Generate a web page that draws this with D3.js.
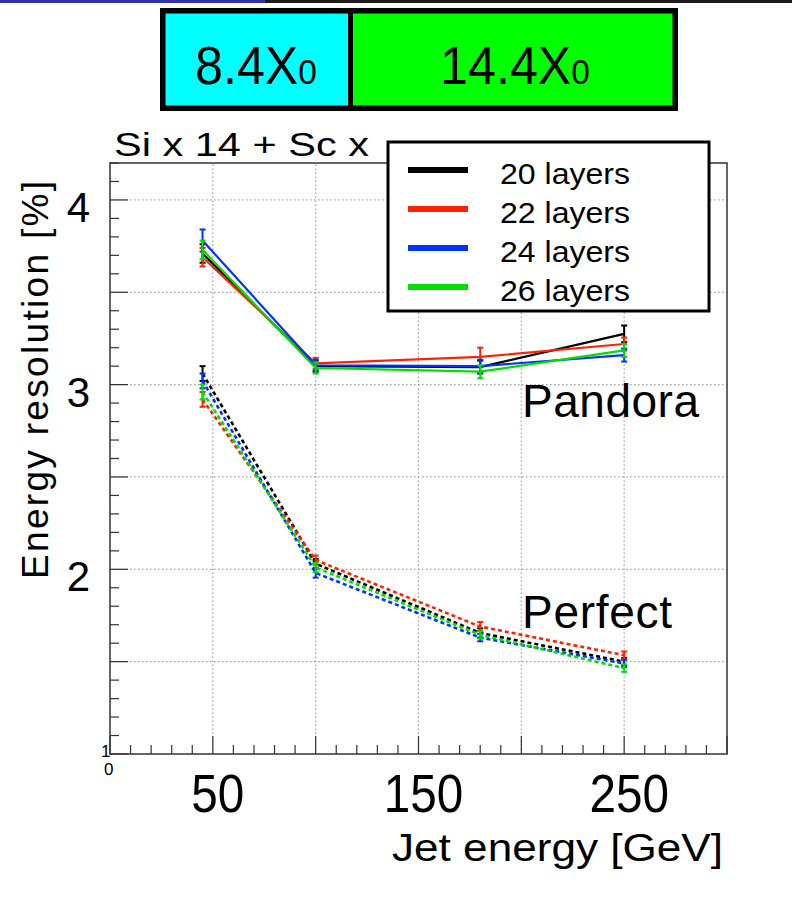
<!DOCTYPE html>
<html>
<head>
<meta charset="utf-8">
<script src="https://cdn.jsdelivr.net/npm/d3@7"></script>
<style>
  body { margin: 0; background: #fff; }
  svg { display: block; }
</style>
</head>
<body>
<svg id="chart" width="792" height="898"></svg>
<script>
// jet energies [GeV]
const energies = [45, 100, 180, 250];

const layers = ["20 layers", "22 layers", "24 layers", "26 layers"];
const colors = ["#000000", "#ff2200", "#0033ff", "#00e000"];

// energy resolution [%], Pandora PFA (solid)
const pandora = [
  [3.71, 3.100, 3.095, 3.275],
  [3.69, 3.115, 3.150, 3.220],
  [3.78, 3.105, 3.100, 3.160],
  [3.73, 3.090, 3.070, 3.185],
];
const pandoraErr = [
  [0.05, 0.030, 0.035, 0.045],
  [0.05, 0.030, 0.050, 0.035],
  [0.06, 0.030, 0.035, 0.035],
  [0.05, 0.030, 0.035, 0.035],
];

// energy resolution [%], perfect PFA (dashed)
const perfect = [
  [3.06, 2.030, 1.655, 1.500],
  [2.92, 2.050, 1.690, 1.535],
  [3.02, 1.980, 1.630, 1.490],
  [2.96, 2.010, 1.645, 1.465],
];
const perfectErr = [
  [0.04, 0.025, 0.025, 0.020],
  [0.04, 0.025, 0.025, 0.020],
  [0.04, 0.025, 0.020, 0.020],
  [0.04, 0.025, 0.020, 0.020],
];

const xTickLabels = [50, 150, 250];
const yTickLabels = [4, 3, 2];

const svg = d3.select("#chart");
const sans = "Liberation Sans, Arial, sans-serif";

// slide decoration at the very top
svg.append("rect").attr("x", 0).attr("y", 0).attr("width", 265).attr("height", 3).attr("fill", "#3333b0");
svg.append("rect").attr("x", 265).attr("y", 0).attr("width", 527).attr("height", 3).attr("fill", "#1c1c1c");

// absorber structure bar
const bar = svg.append("g");
bar.append("rect").attr("x", 162).attr("y", 10).attr("width", 189).attr("height", 99).attr("fill", "#00ffff");
bar.append("rect").attr("x", 351).attr("y", 10).attr("width", 325).attr("height", 99).attr("fill", "#00ff00");
bar.append("rect").attr("x", 162.75).attr("y", 10.75).attr("width", 512.5).attr("height", 97.5)
  .attr("fill", "none").attr("stroke", "#000").attr("stroke-width", 5.5);
bar.append("line").attr("x1", 350.5).attr("x2", 350.5).attr("y1", 10).attr("y2", 111)
  .attr("stroke", "#000").attr("stroke-width", 5);

function barLabel(cx, main) {
  const t = bar.append("text")
    .attr("transform", `translate(${cx},84) scale(0.93,1)`)
    .attr("text-anchor", "middle")
    .attr("font-family", sans)
    .attr("font-size", 54);
  t.append("tspan").text(main);
  t.append("tspan").attr("font-size", 36).text("0");
}
barLabel(256, "8.4X");
barLabel(515, "14.4X");

// plot frame
const x = d3.scaleLinear().domain([0, 300]).range([110, 727]);
const y = d3.scaleLinear().domain([1, 4.2]).range([754, 163]);

const plot = svg.append("g");

// dotted grid
plot.selectAll("line.gx")
  .data(d3.range(50, 300, 50))
  .join("line")
  .attr("class", "gx")
  .attr("x1", d => x(d)).attr("x2", d => x(d))
  .attr("y1", y(1)).attr("y2", y(4.2))
  .attr("stroke", "#a0a0a0").attr("stroke-width", 1.2).attr("stroke-dasharray", "1.5,2.5");

plot.selectAll("line.gy")
  .data(d3.range(1.5, 4.2, 0.5))
  .join("line")
  .attr("class", "gy")
  .attr("x1", x(0)).attr("x2", x(300))
  .attr("y1", d => y(d)).attr("y2", d => y(d))
  .attr("stroke", "#a0a0a0").attr("stroke-width", 1.2).attr("stroke-dasharray", "1.5,2.5");

// ticks
const xMinor = d3.range(0, 301, 10);
plot.selectAll("line.tx")
  .data(xMinor)
  .join("line")
  .attr("class", "tx")
  .attr("x1", d => x(d)).attr("x2", d => x(d))
  .attr("y1", y(1)).attr("y2", d => y(1) - (d % 50 === 0 ? 18 : 9))
  .attr("stroke", "#333").attr("stroke-width", 1.2);

const yMinor = d3.range(10, 43).map(d => d / 10);
plot.selectAll("line.ty")
  .data(yMinor)
  .join("line")
  .attr("class", "ty")
  .attr("x1", x(0)).attr("x2", d => x(0) + (Math.round(d * 10) % 5 === 0 ? 18 : 9))
  .attr("y1", d => y(d)).attr("y2", d => y(d))
  .attr("stroke", "#333").attr("stroke-width", 1.2);

plot.append("rect")
  .attr("x", x(0)).attr("y", y(4.2))
  .attr("width", x(300) - x(0)).attr("height", y(1) - y(4.2))
  .attr("fill", "none").attr("stroke", "#333").attr("stroke-width", 1.5);

// tick labels
plot.selectAll("text.xl")
  .data(xTickLabels)
  .join("text")
  .attr("class", "xl")
  .attr("x", d => x(d) + 5).attr("y", 812)
  .attr("text-anchor", "middle")
  .attr("font-family", sans)
  .attr("font-size", 54)
  .attr("textLength", d => String(d).length * 26.5)
  .attr("lengthAdjust", "spacingAndGlyphs")
  .text(d => d);

plot.selectAll("text.yl")
  .data(yTickLabels)
  .join("text")
  .attr("class", "yl")
  .attr("x", 90).attr("y", d => y(d) + 22)
  .attr("text-anchor", "end")
  .attr("font-family", sans)
  .attr("font-size", 42)
  .text(d => d);

// squeezed origin labels
plot.append("text").attr("x", 101).attr("y", 757).attr("font-family", sans)
  .attr("font-size", 17).text("1");
plot.append("text").attr("x", 104).attr("y", 775).attr("font-family", sans)
  .attr("font-size", 17).text("0");

// axis titles
svg.append("text")
  .attr("transform", "translate(48,380) rotate(-90)")
  .attr("text-anchor", "middle")
  .attr("font-family", sans)
  .attr("font-size", 37)
  .attr("textLength", 398)
  .text("Energy resolution [%]");

svg.append("text")
  .attr("x", 723).attr("y", 861)
  .attr("text-anchor", "end")
  .attr("font-family", sans)
  .attr("font-size", 38)
  .attr("textLength", 331)
  .attr("lengthAdjust", "spacingAndGlyphs")
  .text("Jet energy [GeV]");

svg.append("text")
  .attr("x", 114).attr("y", 156)
  .attr("font-family", sans)
  .attr("font-size", 34)
  .attr("textLength", 255)
  .attr("lengthAdjust", "spacingAndGlyphs")
  .text("Si x 14 + Sc x");

// graphs
const line = d3.line().x(d => x(d.e)).y(d => y(d.v));

function drawSet(values, errs, dashed) {
  values.forEach((vals, i) => {
    const pts = vals.map((v, j) => ({ e: energies[j], v: v, err: errs[i][j] }));
    const g = plot.append("g").attr("stroke", colors[i]).attr("fill", "none");
    g.append("path")
      .attr("d", line(pts))
      .attr("stroke-width", dashed ? 2.6 : 2.2)
      .attr("stroke-dasharray", dashed ? "4,3" : null);
    g.selectAll("line.eb")
      .data(pts)
      .join("line")
      .attr("class", "eb")
      .attr("x1", d => x(d.e)).attr("x2", d => x(d.e))
      .attr("y1", d => y(d.v - d.err)).attr("y2", d => y(d.v + d.err))
      .attr("stroke-width", 2);
    g.selectAll("line.cap")
      .data(pts.flatMap(d => [d.v - d.err, d.v + d.err].map(v => ({ e: d.e, v: v }))))
      .join("line")
      .attr("class", "cap")
      .attr("x1", d => x(d.e) - 3).attr("x2", d => x(d.e) + 3)
      .attr("y1", d => y(d.v)).attr("y2", d => y(d.v))
      .attr("stroke-width", 2);
  });
}
drawSet(perfect, perfectErr, true);
drawSet(pandora, pandoraErr, false);

// annotations
plot.append("text").attr("x", 522).attr("y", 417)
  .attr("font-family", sans).attr("font-size", 46)
  .attr("textLength", 177).text("Pandora");
plot.append("text").attr("x", 522).attr("y", 628)
  .attr("font-family", sans).attr("font-size", 46)
  .attr("textLength", 150).text("Perfect");

// legend
const legend = svg.append("g");
legend.append("rect")
  .attr("x", 388).attr("y", 142).attr("width", 321).attr("height", 169)
  .attr("fill", "#fff").attr("stroke", "#000").attr("stroke-width", 3);

const ly = d3.scalePoint().domain(layers).range([170, 287]);
legend.selectAll("line.key")
  .data(layers)
  .join("line")
  .attr("class", "key")
  .attr("x1", 408).attr("x2", 468)
  .attr("y1", d => ly(d)).attr("y2", d => ly(d))
  .attr("stroke", (d, i) => colors[i])
  .attr("stroke-width", 6);
legend.selectAll("text.key")
  .data(layers)
  .join("text")
  .attr("class", "key")
  .attr("x", 500).attr("y", d => ly(d) + 14)
  .attr("font-family", sans)
  .attr("font-size", 30)
  .attr("textLength", 130)
  .attr("lengthAdjust", "spacingAndGlyphs")
  .text(d => d);
</script>
</body>
</html>
